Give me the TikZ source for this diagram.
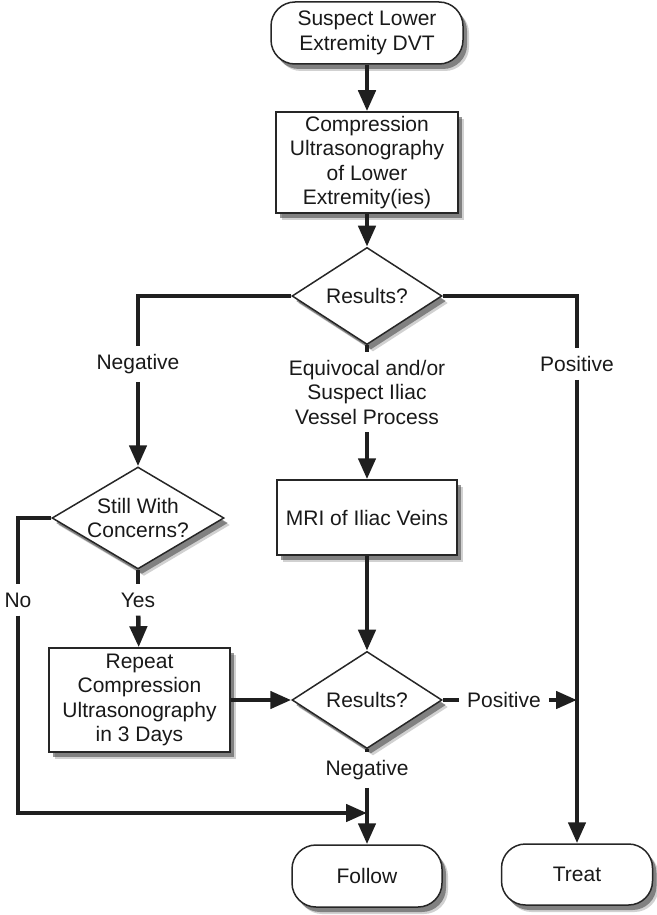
\documentclass[tikz,border=0pt]{standalone}
\usepackage{fontspec}
\setmainfont{Liberation Sans}
\usetikzlibrary{arrows.meta,shapes.geometric,shadows}

\begin{document}
\begin{tikzpicture}[x=1pt,y=-1pt,
  every node/.style={font=\fontsize{21}{24.5}\selectfont, align=center, text=black!90},
  boxshadow/.style={drop shadow={shadow xshift=6pt,shadow yshift=-7pt,fill=black!40,opacity=0.45},
    drop shadow={shadow xshift=4pt,shadow yshift=-5pt,fill=black!75,opacity=0.55}},
  terminal/.style={draw=black!85, line width=1.5pt, fill=white, rounded corners=24pt, inner sep=0pt, boxshadow},
  stepbox/.style={draw=black!85, line width=1.5pt, fill=white, inner sep=0pt, boxshadow},
  decision/.style={diamond, draw=black!85, line width=1.5pt, fill=white, inner sep=0pt, boxshadow},
  tag/.style={inner sep=8pt},
  flow/.style={line width=4.5pt, draw=black!88},
  arrow/.style={flow, -{Triangle[length=21pt,width=17pt]}}]
\useasboundingbox (0,0) rectangle (656,915);

% Top of the chart
\node[terminal, minimum width=192pt, minimum height=62pt] (suspect) at (367,33) {Suspect Lower\\Extremity DVT};
\node[stepbox, minimum width=182pt, minimum height=101pt] (cus) at (367,162.5) {Compression\\Ultrasonography\\of Lower\\Extremity(ies)};
\node[decision, minimum width=150pt, minimum height=76pt] (res1) at (367,296) {Results?};

% First results
\node[tag] (neg1) at (138,364) {Negative};
\node[tag] (equiv) at (367,392) {Equivocal and/or\\Suspect Iliac\\Vessel Process};
\node[tag] (pos1) at (577,364) {Positive};

% Left column
\node[decision, aspect=1.69, minimum width=172pt, minimum height=102pt] (still) at (138,518) {Still With\\Concerns?};
\node[tag] (no) at (18,600) {No};
\node[tag] (yes) at (138,600) {Yes};
\node[stepbox, minimum width=181pt, minimum height=104pt] (again) at (139.5,700) {Repeat\\Compression\\Ultrasonography\\in 3 Days};

% Middle column
\node[stepbox, minimum width=180pt, minimum height=75pt] (mri) at (367,517.5) {MRI of Iliac Veins};
\node[decision, minimum width=150pt, minimum height=80pt] (res2) at (367,700) {Results?};
\node[tag] (pos2) at (504,700) {Positive};
\node[tag] (neg2) at (367,770) {Negative};

% Ends
\node[terminal, minimum width=150pt, minimum height=62pt] (follow) at (367,876) {Follow};
\node[terminal, minimum width=151pt, minimum height=61pt] (treat) at (577,874.5) {Treat};
\coordinate (hit) at (577,700);
\coordinate (meet) at (367,813);

% Connectors
\draw[arrow] (suspect) -- (cus);
\draw[arrow] (cus) -- (res1);
\draw[flow] (res1.west) -| (neg1);
\draw[flow] (res1.east) -| (pos1);
\draw[flow] (res1) -- (equiv);
\draw[arrow] (neg1) -- (still);
\draw[arrow] (equiv) -- (mri);
\draw[arrow] (pos1) -- (treat);
\draw[arrow] (mri) -- (res2);
\draw[flow] (still.west) -| (no);
\draw[arrow] (no) |- (meet);
\draw[flow] (still) -- (yes);
\draw[arrow] (yes) -- (again);
\draw[arrow] (again) -- (res2);
\draw[flow] (res2) -- (pos2);
\draw[arrow] (pos2) -- (hit);
\draw[flow] (res2) -- (neg2);
\draw[arrow] (neg2) -- (follow);
\end{tikzpicture}
\end{document}
